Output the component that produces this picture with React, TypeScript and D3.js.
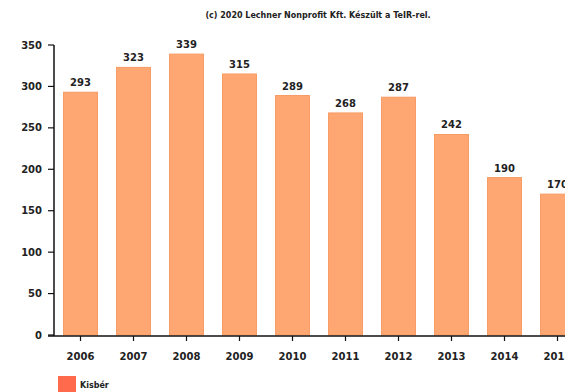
import React from "react";
import * as d3 from "d3";

const years = ["2006", "2007", "2008", "2009", "2010", "2011", "2012", "2013", "2014", "2015"];
const values = [293, 323, 339, 315, 289, 268, 287, 242, 190, 170];
const yTicks = [0, 50, 100, 150, 200, 250, 300, 350];
const seriesName = "Kisbér";
const title = "(c) 2020 Lechner Nonprofit Kft. Készült a TeIR-rel.";

const W = 565;
const H = 392;
const FONT = "'DejaVu Sans', Verdana, sans-serif";

export default function App() {
  const x = d3.scaleBand<string>().domain(years).range([54, 584]).paddingInner(0.36).paddingOuter(0.18);
  const y = d3.scaleLinear().domain([0, 350]).range([335, 45]);
  const x0 = 54;
  const base = y(0);

  return (
    <svg width={W} height={H} style={{ position: "absolute", left: 0, top: 0, background: "#fff" }} fontFamily={FONT}>
      <text x={318} y={18} textAnchor="middle" fontSize={8} fontWeight="bold" fill="#222">{title}</text>
      {years.map((yr, i) => (
        <g key={yr}>
          <rect x={x(yr)} y={y(values[i])} width={x.bandwidth()} height={base - y(values[i])} fill="#ffa772" stroke="#f79a62" strokeWidth={1} />
          <text x={(x(yr) as number) + x.bandwidth() / 2} y={y(values[i]) - 6} textAnchor="middle" fontSize={10} fontWeight="bold" fill="#222">{values[i]}</text>
          <line x1={(x(yr) as number) + x.bandwidth() / 2} x2={(x(yr) as number) + x.bandwidth() / 2} y1={base + 1} y2={base + 6} stroke="#111" strokeWidth={1.2} />
          <text x={(x(yr) as number) + x.bandwidth() / 2} y={base + 25} textAnchor="middle" fontSize={10} fontWeight="bold" fill="#222">{yr}</text>
        </g>
      ))}
      <line x1={x0} x2={x0} y1={y(350)} y2={base + 1} stroke="#111" strokeWidth={1.5} />
      <line x1={x0 - 6} x2={W} y1={base + 1} y2={base + 1} stroke="#111" strokeWidth={1.5} />
      {yTicks.map((t) => (
        <g key={t}>
          <line x1={x0 - 6} x2={x0} y1={y(t)} y2={y(t)} stroke="#111" strokeWidth={1.2} />
          <text x={x0 - 12} y={y(t) + 3.5} textAnchor="end" fontSize={10} fontWeight="bold" fill="#222">{t}</text>
        </g>
      ))}
      <rect x={58} y={376} width={18} height={16} fill="#ff6a4d" />
      <text x={80} y={388} fontSize={8} fontWeight="bold" fill="#222">{seriesName}</text>
    </svg>
  );
}
